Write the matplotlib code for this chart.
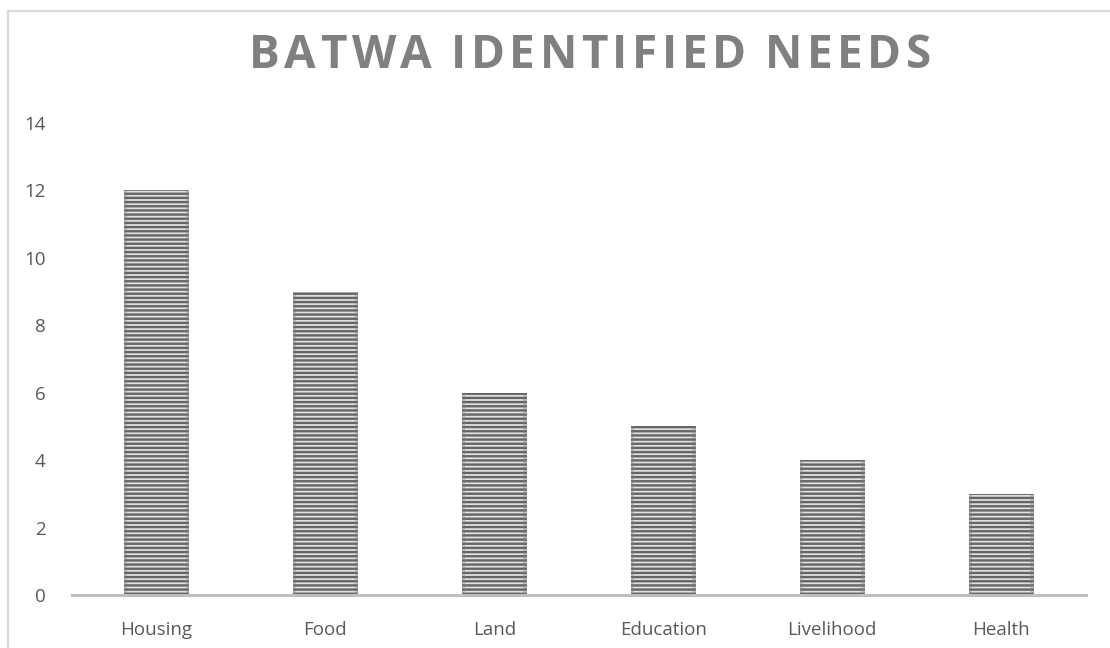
import matplotlib.pyplot as plt
from matplotlib.patches import Rectangle

# data
categories = ['Housing', 'Food', 'Land', 'Education', 'Livelihood', 'Health']
counts = [12, 9, 6, 5, 4, 3]
y_ticks = [0, 2, 4, 6, 8, 10, 12, 14]
title = 'BATWA IDENTIFIED NEEDS'

plt.rcParams['font.family'] = ['Open Sans', 'DejaVu Sans']
plt.rcParams['hatch.linewidth'] = 1.7

fig = plt.figure(figsize=(11.1, 6.48), dpi=100)
ax = fig.add_axes([0.0649, 0.0818, 0.9131, 0.7284])

x = list(range(len(categories)))
ax.bar(x, counts, width=0.385, color='#e0e0e0', edgecolor='#656565',
       hatch='----', linewidth=0)
# darker side shading on each bar
for xi, v in zip(x, counts):
    for off in [-0.1925, 0.1925 - 0.02]:
        ax.add_patch(Rectangle((xi + off, 0), 0.02, v, color='#7a7a7a',
                               alpha=0.35, linewidth=0))

ax.set_xlim(-0.5, len(categories) - 0.5)
ax.set_ylim(0, 14)
ax.set_yticks(y_ticks)
ax.set_xticks(x)
ax.set_xticklabels(categories)

for s in ['top', 'right', 'left']:
    ax.spines[s].set_visible(False)
ax.spines['bottom'].set_color('#bfbfbf')
ax.spines['bottom'].set_linewidth(2.2)
ax.tick_params(axis='both', length=0, labelsize=13.5, colors='#595959')
ax.tick_params(axis='y', pad=19)
ax.tick_params(axis='x', pad=19)

# title with letter spacing, drawn char by char
renderer = fig.canvas.get_renderer()
fsize = 33
spacing = 4.5  # px between letters
items = []
total = 0
for ch in title:
    t = fig.text(0, 0, ch, fontsize=fsize, fontweight='bold', color='#808080',
                 va='center', ha='left')
    w = t.get_window_extent(renderer).width if ch != ' ' else fsize * 0.3
    items.append((t, w))
    total += w + spacing
total -= spacing
x0 = 590 - total / 2
for t, w in items:
    t.set_position((x0 / 1110, 1 - 55 / 648))
    x0 += w + spacing

# chart border (top and left visible)
fig.add_artist(plt.Line2D([8 / 1110, 1], [1 - 11 / 648, 1 - 11 / 648],
                          color='#d9d9d9', linewidth=1.5))
fig.add_artist(plt.Line2D([8 / 1110, 8 / 1110], [0, 1 - 11 / 648],
                          color='#d9d9d9', linewidth=1.5))

fig.savefig('out.png', dpi=100)
